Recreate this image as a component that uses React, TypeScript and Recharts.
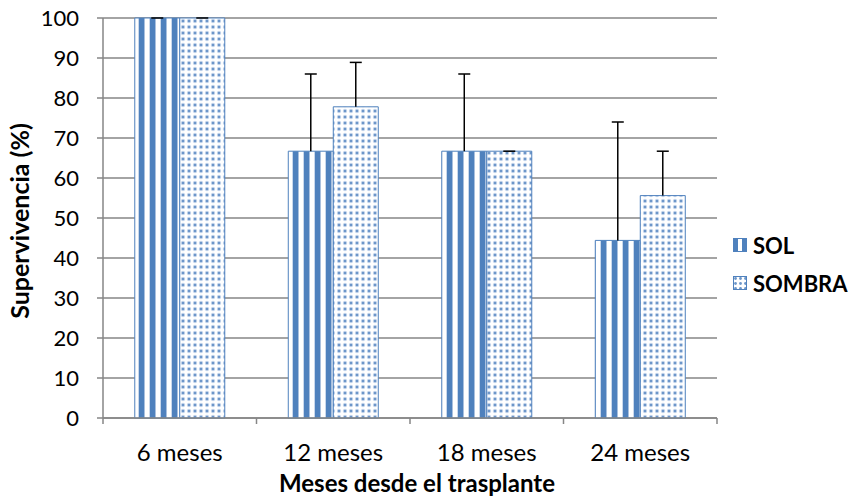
import { Bar, BarChart, CartesianGrid, Label, Legend, XAxis, YAxis } from "recharts";

const CATEGORIES = ["6 meses", "12 meses", "18 meses", "24 meses"];
const SOL = [100, 66.7, 66.7, 44.4];
const SOMBRA = [100, 77.8, 66.7, 55.6];
// upper error only (Excel "plus" error bars)
const SOL_ERR = [0, 19.3, 19.3, 29.6];
const SOMBRA_ERR = [0, 11.1, 0, 11.1];
const Y_TICKS = [0, 10, 20, 30, 40, 50, 60, 70, 80, 90, 100];

const BLUE = "#4f81bd";
const GRID = "#868686";
const FONT = "Lato, 'Open Sans', sans-serif";

const rows = CATEGORIES.map((name, i) => ({
  name,
  SOL: SOL[i],
  solErr: SOL_ERR[i],
  SOMBRA: SOMBRA[i],
  sombraErr: SOMBRA_ERR[i],
}));

function ErrorShape(props: any) {
  const { x, y, width, height } = props;
  const cx = x + width / 2;
  return (
    <g>
      <line x1={cx} x2={cx} y1={y + height} y2={y} stroke="#000" strokeWidth={1.5} />
      <line x1={cx - 6} x2={cx + 6} y1={y} y2={y} stroke="#000" strokeWidth={1.5} />
    </g>
  );
}

// category labels, with tick marks between categories like Excel
function XTick(props: any) {
  const { x, y, payload, index, visibleTicksCount, width } = props;
  const step = width / visibleTicksCount;
  const axisY = y - 26;
  return (
    <g>
      <line x1={x - step / 2} x2={x - step / 2} y1={axisY} y2={axisY + 6} stroke={GRID} strokeWidth={1.5} />
      {index === visibleTicksCount - 1 && (
        <line x1={x + step / 2} x2={x + step / 2} y1={axisY} y2={axisY + 6} stroke={GRID} strokeWidth={1.5} />
      )}
      <text x={x} y={y} dy="0.71em" textAnchor="middle" fontSize={24} fill="#000" fontFamily={FONT}>
        {payload.value}
      </text>
    </g>
  );
}

function LegendIcon({ kind }: { kind: string }) {
  return (
    <svg width={14} height={14} style={{ marginRight: 6 }}>
      <rect x={0.5} y={0.5} width={13} height={13} fill={kind === "SOL" ? "url(#solIcon)" : "url(#sombraIcon)"} stroke={BLUE} />
    </svg>
  );
}

function LegendContent() {
  const items = ["SOL", "SOMBRA"];
  return (
    <div style={{ fontFamily: FONT, fontWeight: 700, fontSize: 22, color: "#000" }}>
      {items.map((k) => (
        <div key={k} style={{ display: "flex", alignItems: "center", height: 38 }}>
          <LegendIcon kind={k} />
          <span>{k}</span>
        </div>
      ))}
    </div>
  );
}

export default function App() {
  return (
    <div style={{ width: 856, height: 500, fontFamily: FONT, position: "relative" }}>
      <style>{`body{margin:0}`}</style>
      <BarChart
        width={856}
        height={500}
        data={rows}
        margin={{ top: 18, right: 139, bottom: 0, left: 0 }}
        barCategoryGap="20.7%"
        barGap={0}
      >
        <defs>
          <pattern id="solPattern" patternUnits="userSpaceOnUse" width={11} height={10} x={7}>
            <rect x={0} y={0} width={11} height={10} fill="#fff" />
            <rect x={0} y={0} width={5} height={10} fill={BLUE} />
            <rect x={5} y={0} width={1} height={10} fill="#a9c0de" />
            <rect x={10} y={0} width={1} height={10} fill="#c9d8ec" />
          </pattern>
          <pattern id="sombraPattern" patternUnits="userSpaceOnUse" width={6} height={6}>
            <rect x={0} y={0} width={6} height={6} fill="#fff" />
            <circle cx={3} cy={3} r={2.2} fill="#cbdaee" />
            <circle cx={3} cy={3} r={1.3} fill="#6d96c9" />
          </pattern>
          <pattern id="solIcon" patternUnits="userSpaceOnUse" width={14} height={14}>
            <rect width={14} height={14} fill="#fff" />
            <rect x={1} width={4} height={14} fill={BLUE} />
            <rect x={9} width={4} height={14} fill={BLUE} />
          </pattern>
          <pattern id="sombraIcon" patternUnits="userSpaceOnUse" width={5} height={5}>
            <rect width={5} height={5} fill="#fff" />
            <circle cx={2.5} cy={2.5} r={1.4} fill="#6d96c9" />
          </pattern>
        </defs>
        <CartesianGrid vertical={false} stroke={GRID} strokeWidth={1.3} />
        <XAxis
          dataKey="name"
          height={82}
          axisLine={{ stroke: GRID, strokeWidth: 1.5 }}
          tickLine={false}
          tickSize={6}
          tickMargin={20}
          tick={<XTick />}
          interval={0}
        >
          <Label
            content={(p: any) => {
              const vb = p.viewBox;
              return (
                <text x={vb.x + vb.width / 2 + 7} y={vb.y + 74} textAnchor="middle" fontSize={24} fontWeight={700} fill="#000" fontFamily={FONT}>
                  Meses desde el trasplante
                </text>
              );
            }}
          />
        </XAxis>
        <YAxis
          width={103}
          domain={[0, 100]}
          ticks={Y_TICKS}
          interval={0}
          axisLine={{ stroke: GRID, strokeWidth: 1.5 }}
          tickLine={{ stroke: GRID, strokeWidth: 1.5 }}
          tickSize={6}
          tickMargin={18}
          tick={{ fill: "#000", fontSize: 22, fontFamily: FONT }}
        >
          <Label
            content={(p: any) => {
              const vb = p.viewBox;
              const cy = vb.y + vb.height / 2 + 3;
              return (
                <text x={29} y={cy} transform={`rotate(-90, 29, ${cy})`} textAnchor="middle" fontSize={25} fontWeight={700} fill="#000" fontFamily={FONT}>
                  Supervivencia (%)
                </text>
              );
            }}
          />
        </YAxis>
        <Legend
          layout="vertical"
          align="center"
          verticalAlign="middle"
          content={<LegendContent />}
          wrapperStyle={{ left: 733, top: 226, width: 123 }}
        />
        <Bar dataKey="SOL" stackId="sol" fill="url(#solPattern)" stroke={BLUE} strokeWidth={1} isAnimationActive={false} />
        <Bar dataKey="solErr" stackId="sol" legendType="none" shape={<ErrorShape />} isAnimationActive={false} />
        <Bar dataKey="SOMBRA" stackId="sombra" fill="url(#sombraPattern)" stroke={BLUE} strokeWidth={1} isAnimationActive={false} />
        <Bar dataKey="sombraErr" stackId="sombra" legendType="none" shape={<ErrorShape />} isAnimationActive={false} />
      </BarChart>
    </div>
  );
}
